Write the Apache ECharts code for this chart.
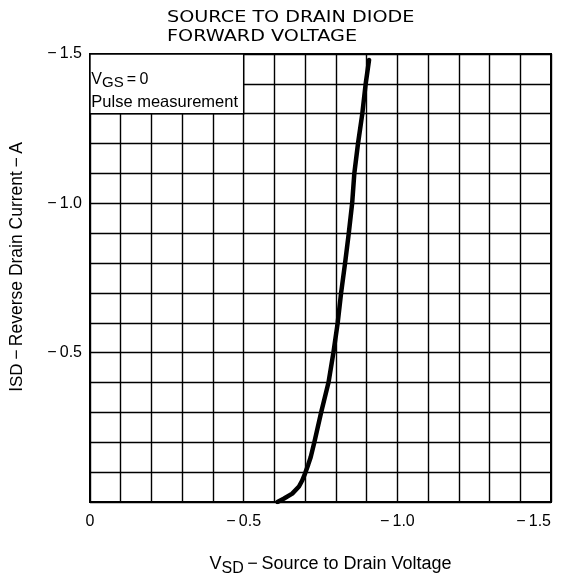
<!DOCTYPE html>
<html>
<head>
<meta charset="utf-8">
<script src="https://cdn.jsdelivr.net/npm/echarts@6/dist/echarts.min.js"></script>
<style>
  html, body { margin: 0; padding: 0; background: #fff; }
  #chart { width: 561px; height: 582px; }
</style>
</head>
<body>
<div id="chart"></div>
<script>
// 曲线数据 (V_SD, I_SD)
const vsd = [-0.61, -0.63, -0.658, -0.68, -0.69, -0.70, -0.71, -0.718, -0.73, -0.752, -0.776, -0.792, -0.806, -0.817, -0.83, -0.842, -0.853, -0.86, -0.872, -0.886, -0.897, -0.908];
const isd = [0, -0.011, -0.028, -0.052, -0.071, -0.096, -0.125, -0.15, -0.2, -0.3, -0.4, -0.5, -0.6, -0.7, -0.8, -0.9, -1.0, -1.1, -1.2, -1.3, -1.4, -1.48];

// 刻度标签
const xTickValues = [0, -0.5, -1.0, -1.5];
const xTickLabels = ['0', '\u2212\u20090.5', '\u2212\u20091.0', '\u2212\u20091.5'];
const yTickValues = [-0.5, -1.0, -1.5];
const yTickLabels = ['\u2212\u20090.5', '\u2212\u20091.0', '\u2212\u20091.5'];

// 说明框范围
const noteBox = [[0, -1.5], [-0.5, -1.3]];

function pickLabel(values, labels, v) {
    for (let i = 0; i < values.length; i++) {
        if (Math.abs(values[i] - v) < 1e-6) return labels[i];
    }
    return '';
}

const chart = echarts.init(document.getElementById('chart'));

const option = {
    backgroundColor: '#fff',
    animation: false,
    graphic: [
        {
            // 标题 (横向拉宽, 接近原图字距)
            type: 'text',
            x: 167,
            y: 8,
            scaleX: 1.2,
            style: {
                text: 'SOURCE TO DRAIN DIODE\nFORWARD VOLTAGE',
                font: '16px "DejaVu Sans"',
                fill: '#000',
                lineHeight: 19
            }
        }
    ],
    grid: {
        left: 87,
        right: 10,
        top: 54,
        bottom: 70,
        show: true,
        borderColor: '#000',
        borderWidth: 2
    },
    xAxis: {
        type: 'value',
        min: -1.5,
        max: 0,
        interval: 0.1,
        inverse: true,
        name: '{v|V}{s|SD}{t|\u2009\u2212\u2009Source to Drain Voltage}',
        nameLocation: 'middle',
        nameGap: 50,
        nameTextStyle: {
            padding: [0, 0, 0, 20],
            rich: {
                v: { fontFamily: 'Liberation Sans', fontSize: 18, color: '#000' },
                s: { fontFamily: 'Liberation Sans', fontSize: 16, color: '#000', padding: [9, 0, 0, 0] },
                t: { fontFamily: 'Liberation Sans', fontSize: 18, color: '#000' }
            }
        },
        axisLine: { lineStyle: { color: '#000', width: 2 } },
        axisTick: { show: false },
        splitLine: { lineStyle: { color: '#000', width: 1.4 } },
        axisLabel: {
            margin: 12,
            fontFamily: 'Liberation Sans',
            fontSize: 16,
            color: '#000',
            alignMinLabel: 'right',
            formatter: v => pickLabel(xTickValues, xTickLabels, v)
        }
    },
    yAxis: {
        type: 'value',
        min: -1.5,
        max: 0,
        interval: 0.1,
        inverse: true,
        name: '{t|I}{s|SD}{t|\u2009\u2212\u2009Reverse Drain Current\u2009\u2212\u2009A}',
        nameLocation: 'middle',
        nameGap: 64,
        nameTextStyle: {
            padding: [0, 0, 0, 22],
            rich: {
                s: { fontFamily: 'Liberation Sans', fontSize: 17, color: '#000' },
                t: { fontFamily: 'Liberation Sans', fontSize: 17.5, color: '#000' }
            }
        },
        axisLine: { lineStyle: { color: '#000', width: 2 } },
        axisTick: { show: false },
        splitLine: { lineStyle: { color: '#000', width: 1.4 } },
        axisLabel: {
            margin: 8,
            fontFamily: 'Liberation Sans',
            fontSize: 16,
            color: '#000',
            formatter: v => pickLabel(yTickValues, yTickLabels, v)
        }
    },
    series: [
        {
            type: 'line',
            data: vsd.map((v, i) => [v, isd[i]]),
            smooth: false,
            showSymbol: false,
            lineStyle: { color: '#000', width: 4.5, join: 'round', cap: 'round' },
            markArea: {
                silent: true,
                itemStyle: { color: '#fff', borderColor: '#000', borderWidth: 1.4 },
                label: {
                    position: 'insideTopLeft',
                    offset: [-3, 9],
                    formatter: '{v|V}{s|GS}{v|\u2009=\u20090}\n{p|Pulse measurement}',
                    rich: {
                        v: { fontFamily: 'Liberation Sans', fontSize: 16, color: '#000', lineHeight: 24 },
                        s: { fontFamily: 'Liberation Sans', fontSize: 15, color: '#000', padding: [7, 0, 0, 0] },
                        p: { fontFamily: 'Liberation Sans', fontSize: 16.5, color: '#000', lineHeight: 22 }
                    }
                },
                data: [[{ coord: noteBox[0] }, { coord: noteBox[1] }]]
            }
        }
    ]
};

chart.setOption(option);
</script>
</body>
</html>
